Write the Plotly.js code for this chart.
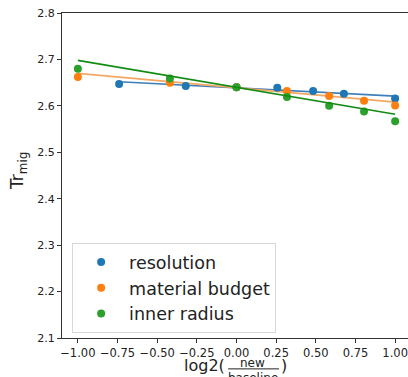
<!DOCTYPE html>
<html>
<head>
<meta charset="utf-8">
<script src="https://cdn.plot.ly/plotly-3.0.1.min.js"></script>
<style>
html,body{margin:0;padding:0;overflow:hidden;background:#fff;}
#chart{width:412px;height:377px;}
</style>
</head>
<body>
<div id="chart"></div>
<script>
// Series names
const seriesNames = ["resolution", "material budget", "inner radius"];

// Scatter data (x = log2(new/baseline), y = Tr_mig)
const resolutionX = [-0.74, -0.32, 0.0, 0.257, 0.483, 0.677, 1.0];
const resolutionY = [2.647, 2.643, 2.640, 2.639, 2.632, 2.626, 2.616];

const materialX = [-1.0, -0.42, 0.0, 0.318, 0.584, 0.804, 1.0];
const materialY = [2.662, 2.650, 2.640, 2.632, 2.621, 2.611, 2.601];

const innerX = [-1.0, -0.42, 0.0, 0.318, 0.584, 0.804, 1.0];
const innerY = [2.680, 2.659, 2.640, 2.619, 2.600, 2.588, 2.567];

// Linear fit lines (end points)
const resolutionFitX = [-0.74, 1.0];
const resolutionFitY = [2.652, 2.621];
const materialFitX = [-1.0, 1.0];
const materialFitY = [2.670, 2.608];
const innerFitX = [-1.0, 1.0];
const innerFitY = [2.698, 2.582];

// Tick values
const xTicks = [-1.0, -0.75, -0.5, -0.25, 0.0, 0.25, 0.5, 0.75, 1.0];
const yTicks = [2.1, 2.2, 2.3, 2.4, 2.5, 2.6, 2.7, 2.8];

const colors = ["#1f77b4", "#ff7f0e", "#2ca02c"];
const lineColors = ["#3f7fba", "#f4a762", "#138a13"];
const font = "DejaVu Sans, sans-serif";

function dots(x, y, i) {
  return {x: x, y: y, type: "scatter", mode: "markers", name: seriesNames[i],
    marker: {color: colors[i], size: 8}, hoverinfo: "skip"};
}
function fit(x, y, i) {
  return {x: x, y: y, type: "scatter", mode: "lines", showlegend: false,
    line: {color: lineColors[i], width: 1.6}, hoverinfo: "skip"};
}

const data = [
  fit(resolutionFitX, resolutionFitY, 0),
  fit(materialFitX, materialFitY, 1),
  dots(resolutionX, resolutionY, 0),
  dots(materialX, materialY, 1),
  dots(innerX, innerY, 2),
  fit(innerFitX, innerFitY, 2)
];

const layout = {
  width: 412, height: 377,
  margin: {l: 62, r: 1, t: 13, b: 39},
  paper_bgcolor: "#fff", plot_bgcolor: "#fff",
  font: {family: font, color: "#222", size: 11},
  showlegend: true,
  legend: {
    x: 0.029, y: 0.015, xanchor: "left", yanchor: "bottom",
    bgcolor: "rgba(255,255,255,0.9)", bordercolor: "#d8d8d8", borderwidth: 1,
    font: {family: font, size: 17.5, color: "#222"},
    itemwidth: 46, tracegroupgap: 0
  },
  xaxis: {
    range: [-1.1, 1.1], tickvals: xTicks, tickformat: ".2f",
    showgrid: false, zeroline: false, showline: true, mirror: true,
    linecolor: "#333", linewidth: 1, ticks: "outside", ticklen: 4, tickcolor: "#333",
    tickfont: {family: font, size: 11.5, color: "#222"}
  },
  yaxis: {
    range: [2.1, 2.8], tickvals: yTicks, tickformat: ".1f",
    showgrid: false, zeroline: false, showline: true, mirror: true,
    linecolor: "#333", linewidth: 1, ticks: "outside", ticklen: 4, tickcolor: "#333",
    tickfont: {family: font, size: 11, color: "#222"}
  },
  annotations: [
    {xref: "paper", yref: "paper", x: -0.123, y: 0.514, xanchor: "center", yanchor: "middle",
     textangle: -90, text: "Tr<sub>mig</sub>", showarrow: false,
     font: {family: font, size: 17, color: "#222"}},
    {xref: "paper", yref: "paper", x: 0.472, y: -0.086, xanchor: "right", yanchor: "middle",
     text: "log2(", showarrow: false, font: {family: font, size: 16, color: "#222"}},
    {xref: "paper", yref: "paper", x: 0.547, y: -0.078, xanchor: "center", yanchor: "middle",
     text: "new", showarrow: false, font: {family: font, size: 12, color: "#222"}},
    {xref: "paper", yref: "paper", x: 0.547, y: -0.122, xanchor: "center", yanchor: "middle",
     text: "baseline", showarrow: false, font: {family: font, size: 12, color: "#222"}},
    {xref: "paper", yref: "paper", x: 0.621, y: -0.086, xanchor: "left", yanchor: "middle",
     text: ")", showarrow: false, font: {family: font, size: 16, color: "#222"}}
  ],
  shapes: [
    {type: "line", xref: "paper", yref: "paper", x0: 0.476, x1: 0.622, y0: -0.095, y1: -0.095,
     line: {color: "#222", width: 1}}
  ]
};

Plotly.newPlot("chart", data, layout, {displayModeBar: false, staticPlot: true});
</script>
</body>
</html>
